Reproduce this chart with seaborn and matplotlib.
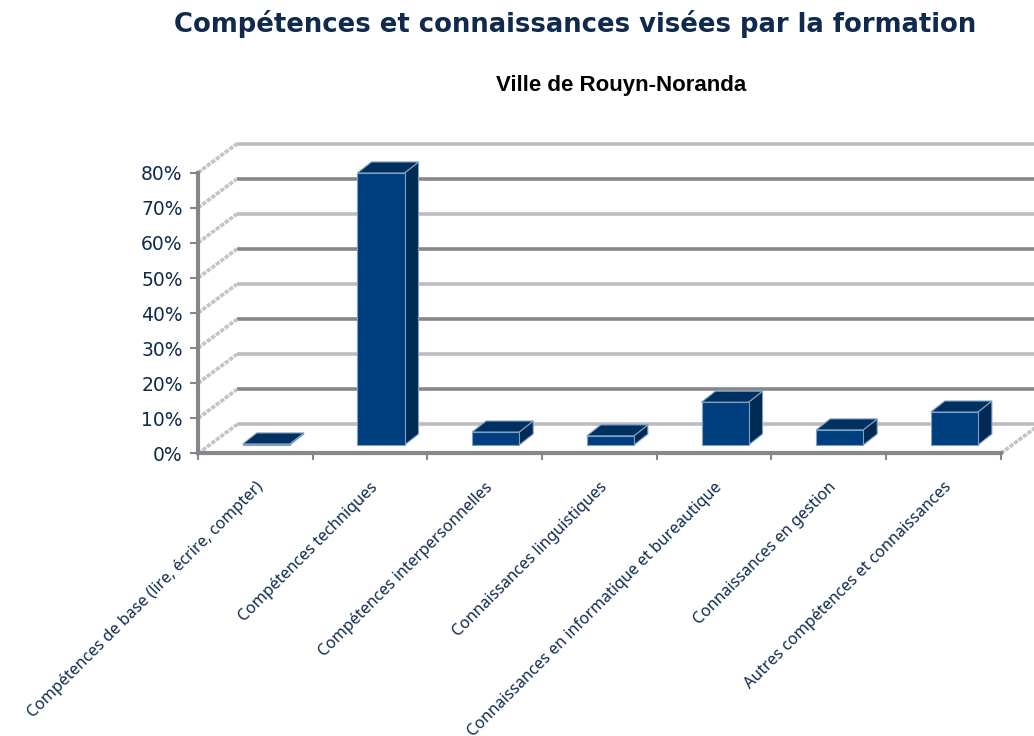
import matplotlib
matplotlib.use('Agg')
import matplotlib.pyplot as plt
from matplotlib.patches import Polygon
import seaborn as sns
import numpy as np

# Values
categories = ['Compétences de base (lire, écrire, compter)', 'Compétences techniques',
              'Compétences interpersonnelles', 'Connaissances linguistiques',
              'Connaissances en informatique et bureautique', 'Connaissances en gestion',
              'Autres compétences et connaissances']
values = [0.3, 77.5, 3.7, 2.6, 12.2, 4.3, 9.4]
y_ticks = [0, 10, 20, 30, 40, 50, 60, 70, 80]

W, H = 1034, 736
NAVY = '#0f2a4d'
FRONT = '#003f7f'
SIDE = '#012b54'
TOP = '#00305f'
EDGE = '#7fa0c4'
DARK = '#85878d'
LIGHT = '#bcbdc2'

sns.set_style('white')
fig = plt.figure(figsize=(W / 100, H / 100), dpi=100)

# front plane of the fake 3D box, in pixels of the reference
left, right, bottom, top = 198, 1000.7, 453.5, 172.7
ax = fig.add_axes([left / W, 1 - bottom / H, (right - left) / W, (bottom - top) / H])

sns.barplot(x=categories, y=values, color=FRONT, saturation=1, width=47 / 114.6,
            ax=ax, zorder=3, linewidth=0)
ax.set_xlim(-0.5, 6.5)
ax.set_ylim(0, 80)

# pixels to data units
px_x = 7 / (right - left)
px_y = 80 / (bottom - top)

# back wall and floor
wall_dx, wall_dy = 39 * px_x, 29 * px_y
x_end = (W - left) * px_x - 0.5
for i, t in enumerate(y_ticks):
    col = LIGHT if i % 2 == 0 else DARK
    ax.plot([-0.5 + wall_dx, x_end], [t + wall_dy, t + wall_dy], color=col, lw=2.6,
            clip_on=False, zorder=1, solid_capstyle='butt')
    ax.plot([-0.5, -0.5 + wall_dx], [t, t + wall_dy], color='#c4c4c6', lw=2.6,
            ls=(0, (1.2, 0.35)), clip_on=False, zorder=1)
ax.plot([6.5, 6.5 + wall_dx], [0, wall_dy], color='#c4c4c6', lw=2.6,
        ls=(0, (1.2, 0.35)), clip_on=False, zorder=1)

# extrude the seaborn bars
shift_x, rise = 11 * px_x, 8.5 * px_y
bar_dx, bar_dy = 14 * px_x, 11 * px_y
for bar in ax.patches:
    x0 = bar.get_x() + shift_x
    w = bar.get_width()
    h = bar.get_height()
    bar.set_x(x0)
    bar.set_y(rise)
    bar.set_edgecolor(EDGE)
    bar.set_linewidth(0.8)
    bar.set_clip_on(False)
    y1 = rise + h
    ax.add_patch(Polygon([(x0 + w, rise), (x0 + w + bar_dx, rise + bar_dy),
                          (x0 + w + bar_dx, y1 + bar_dy), (x0 + w, y1)],
                         fc=SIDE, ec=EDGE, lw=0.8, zorder=2.9, clip_on=False))
    ax.add_patch(Polygon([(x0, y1), (x0 + bar_dx, y1 + bar_dy),
                          (x0 + w + bar_dx, y1 + bar_dy), (x0 + w, y1)],
                         fc=TOP, ec=EDGE, lw=0.8, zorder=2.9, clip_on=False))

# axes
sns.despine(ax=ax)
for side in ['left', 'bottom']:
    ax.spines[side].set_color(DARK)
    ax.spines[side].set_linewidth(3)
ax.set_yticks(y_ticks)
ax.set_yticklabels([f'{t}%' for t in y_ticks], fontsize=13.5, color=NAVY, family='DejaVu Sans')
ax.tick_params(axis='y', left=True, length=6, width=1.5, color=DARK, pad=5)
ax.set_xticks(np.arange(len(categories)))
ax.set_xticklabels(categories, rotation=45, ha='right', va='top', rotation_mode='anchor',
                   fontsize=11.5, color=NAVY, family='Noto Sans')
ax.tick_params(axis='x', bottom=False, pad=15)
ax.set_xticks(np.arange(-0.5, 7), minor=True)
ax.tick_params(axis='x', which='minor', bottom=True, length=5, width=1.5, color=DARK)
ax.set_xlabel('')
ax.set_ylabel('')

fig.text(575 / W, 1 - 24 / H, 'Compétences et connaissances visées par la formation',
         ha='center', va='center', fontsize=18.6, fontweight='bold', color=NAVY,
         family='DejaVu Sans')
fig.text(621.5 / W, 1 - 86 / H, 'Ville de Rouyn-Noranda', ha='center', va='center',
         fontsize=16, fontweight='bold', color='black', family='Liberation Sans')

fig.savefig('out.png', dpi=100, facecolor='white')
